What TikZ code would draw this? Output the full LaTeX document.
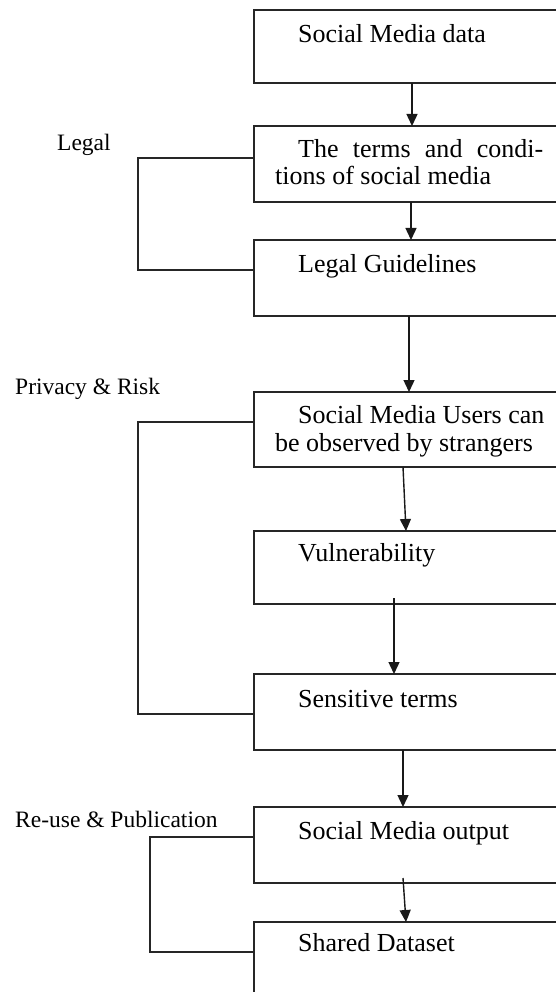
\documentclass[tikz,border=0pt]{standalone}
\usepackage{fontspec}
\setmainfont{Liberation Serif}
\usetikzlibrary{arrows.meta}

\tikzset{
  flowbox/.style={draw=black!85, line width=1.6pt, rectangle, anchor=north west,
    minimum width=346pt, inner sep=0pt, outer sep=0pt},
  boxtext/.style={anchor=base west, inner sep=0pt, font=\fontsize{26}{30}\selectfont},
  grouplabel/.style={anchor=base west, inner sep=0pt, font=\fontsize{23.5}{28}\selectfont},
  flowarrow/.style={draw=black!90, line width=1.4pt, -{Triangle[length=12pt,width=11pt]}},
  bracket/.style={draw=black!85, line width=1.6pt}
}

\begin{document}
\begin{tikzpicture}[x=1pt, y=-1pt]
  \useasboundingbox (0,0) rectangle (556,992);
  \clip (0,0) rectangle (556,992);
  \fill[white] (0,0) rectangle (556,992);

  % process boxes (they run past the right and bottom edges)
  \node[flowbox, minimum height=73pt]  (b1) at (254,10)  {};
  \node[flowbox, minimum height=76pt]  (b2) at (254,126) {};
  \node[flowbox, minimum height=76pt]  (b3) at (254,240) {};
  \node[flowbox, minimum height=75pt]  (b4) at (254,392) {};
  \node[flowbox, minimum height=73pt]  (b5) at (254,531) {};
  \node[flowbox, minimum height=76pt]  (b6) at (254,674) {};
  \node[flowbox, minimum height=76pt]  (b7) at (254,807) {};
  \node[flowbox, minimum height=120pt] (b8) at (254,922) {};

  % box texts
  \node[boxtext] (t1)  at (298,43)  {Social Media data};
  \node[boxtext] (t2a) at (298,158) {\makebox[245pt][s]{The terms and condi-}};
  \node[boxtext] (t2b) at (275,185) {tions of social media};
  \node[boxtext] (t3)  at (298,272) {Legal Guidelines};
  \node[boxtext] (t4a) at (298,423) {Social Media Users can};
  \node[boxtext] (t4b) at (275,451) {be observed by strangers};
  \node[boxtext] (t5)  at (298,561) {Vulnerability};
  \node[boxtext] (t6)  at (298,707) {Sensitive terms};
  \node[boxtext] (t7)  at (298,839) {Social Media output};
  \node[boxtext] (t8)  at (298,951) {Shared Dataset};

  % group labels
  \node[grouplabel] (gLegal)   at (57,151) {Legal};
  \node[grouplabel] (gPrivacy) at (15,394) {Privacy \& Risk};
  \node[grouplabel] (gReuse)   at (15,827) {Re-use \& Publication};

  % flow arrows
  \draw[flowarrow] ([xshift=158pt]b1.south west) -- ([xshift=158pt]b2.north west);
  \draw[flowarrow] ([xshift=157pt]b2.south west) -- ([xshift=157pt]b3.north west);
  \draw[flowarrow] ([xshift=155pt]b3.south west) -- ([xshift=155pt]b4.north west);
  \draw[flowarrow] ([xshift=149pt]b4.south west) -- ([xshift=152pt]b5.north west);
  \draw[flowarrow] ([xshift=140pt,yshift=6pt]b5.south west) -- ([xshift=140pt]b6.north west);
  \draw[flowarrow] ([xshift=149pt]b6.south west) -- ([xshift=149pt]b7.north west);
  \draw[flowarrow] ([xshift=149pt,yshift=5pt]b7.south west) -- ([xshift=152pt]b8.north west);

  % group brackets
  \draw[bracket] ([yshift=-32pt]b2.north west) -- ++(-116pt,0) |- ([yshift=-30pt]b3.north west);
  \draw[bracket] ([yshift=-30pt]b4.north west) -- ++(-116pt,0) |- ([yshift=-40pt]b6.north west);
  \draw[bracket] ([yshift=-30pt]b7.north west) -- ++(-104pt,0) |- ([yshift=-30pt]b8.north west);
\end{tikzpicture}
\end{document}
